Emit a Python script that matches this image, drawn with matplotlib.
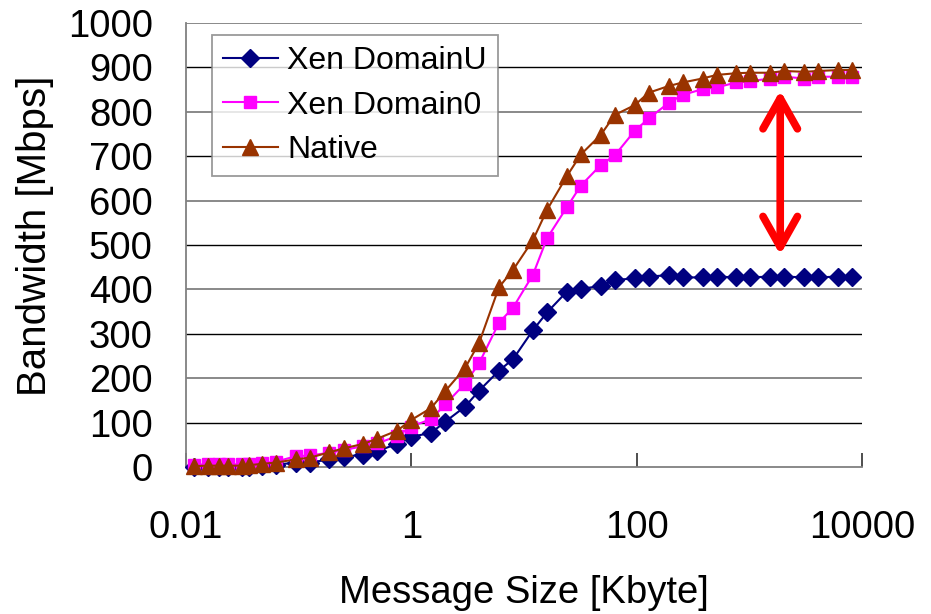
import matplotlib
matplotlib.use("Agg")
import matplotlib.pyplot as plt
from matplotlib.ticker import NullLocator

plt.rcParams['font.family'] = ['Liberation Sans', 'DejaVu Sans']

# Message sizes in Kbyte
sizes_kb = [0.0117, 0.0156, 0.0195, 0.0234, 0.03125, 0.0361, 0.0469, 0.0625,
            0.0938, 0.125, 0.1875, 0.25, 0.375, 0.5, 0.75,
            1, 1.5, 2, 3, 4, 6, 8, 12, 16, 24, 32, 48, 64, 96, 128, 192, 256,
            384, 512, 768, 1024, 1536, 2048, 3072, 4096, 6144, 8192]

# Bandwidth in Mbps
domain_u = [0, 0, 0, 0, 1, 1, 3, 5,
            10, 10, 17, 23, 28, 36, 52,
            68, 77, 102, 136, 172, 217, 243, 308, 348, 395, 401, 408, 421, 425,
            429, 432, 427, 427, 429, 427, 427, 429, 429, 427, 427, 429, 427]
domain_0 = [5, 6, 6, 6, 6, 7, 9, 12,
            24, 26, 32, 38, 47, 53, 70,
            91, 108, 141, 188, 234, 325, 359, 433, 515, 585, 634, 680, 702, 757,
            785, 820, 838, 851, 855, 866, 869, 875, 879, 875, 879, 879, 879]
native = [2, 3, 3, 3, 3, 4, 7, 10,
          17, 21, 33, 42, 52, 64, 82,
          106, 133, 171, 223, 280, 405, 444, 511, 579, 655, 704, 748, 793, 815,
          843, 858, 866, 875, 883, 887, 888, 888, 892, 890, 892, 894, 894]

x_ticks = [0.01, 1, 100, 10000]
x_tick_labels = ["0.01", "1", "100", "10000"]
y_ticks = list(range(0, 1001, 100))

fig = plt.figure(figsize=(9.31, 6.14), dpi=100)
ax = fig.add_axes([186 / 931, 1 - 467 / 614, 676 / 931, 444 / 614])

ax.set_xscale('log')
ax.set_xlim(0.01, 10000)
ax.set_ylim(0, 1000)

# horizontal gridlines
for y in y_ticks[1:]:
    if (y // 100) % 2 == 0:
        ax.axhline(y, color='#808080', lw=1.3, zorder=0.5)
    else:
        ax.axhline(y, color='black', lw=1.0, zorder=0.5)

ax.plot(sizes_kb, domain_u, color='#000080', marker='D', markersize=9.5,
        lw=1.5, label='Xen DomainU', clip_on=False, zorder=3)
ax.plot(sizes_kb, domain_0, color='#FF00FF', marker='s', markersize=8,
        lw=1.5, label='Xen Domain0', clip_on=False, zorder=4)
ax.plot(sizes_kb, native, color='#993300', marker='^', markersize=11,
        lw=1.5, label='Native', clip_on=False, zorder=5)

# gap between Native and DomainU throughput
ax.annotate('', xy=(1880, 848), xytext=(1880, 478),
            arrowprops=dict(arrowstyle='<->,head_length=1.1,head_width=0.62',
                            lw=5.5, color='#FF0000', shrinkA=0, shrinkB=0,
                            mutation_scale=20),
            zorder=6)

for side in ('top', 'right'):
    ax.spines[side].set_visible(False)
for side in ('left', 'bottom'):
    ax.spines[side].set_color('#808080')
    ax.spines[side].set_linewidth(1.3)

ax.set_xticks(x_ticks)
ax.set_xticklabels(x_tick_labels)
ax.xaxis.set_minor_locator(NullLocator())
ax.set_yticks(y_ticks)
ax.tick_params(axis='x', direction='in', length=10, width=1.3, color='#404040',
               labelsize=27.5, pad=31)
ax.tick_params(axis='y', length=0, labelsize=27.5, pad=24)

ax.set_xlabel('Message Size [Kbyte]', fontsize=27.5, labelpad=21)
ax.set_ylabel('Bandwidth [Mbps]', fontsize=29)
ax.yaxis.set_label_coords(-0.196, 0.52)

leg = ax.legend(loc='upper left', bbox_to_anchor=(0.0385, 0.973),
                borderaxespad=0, fontsize=23, frameon=True, fancybox=False,
                edgecolor='#808080', handlelength=1.7, handletextpad=0.3,
                labelspacing=0.45, borderpad=0.35)
leg.get_frame().set_linewidth(1.3)

fig.savefig('out.png', dpi=100)
